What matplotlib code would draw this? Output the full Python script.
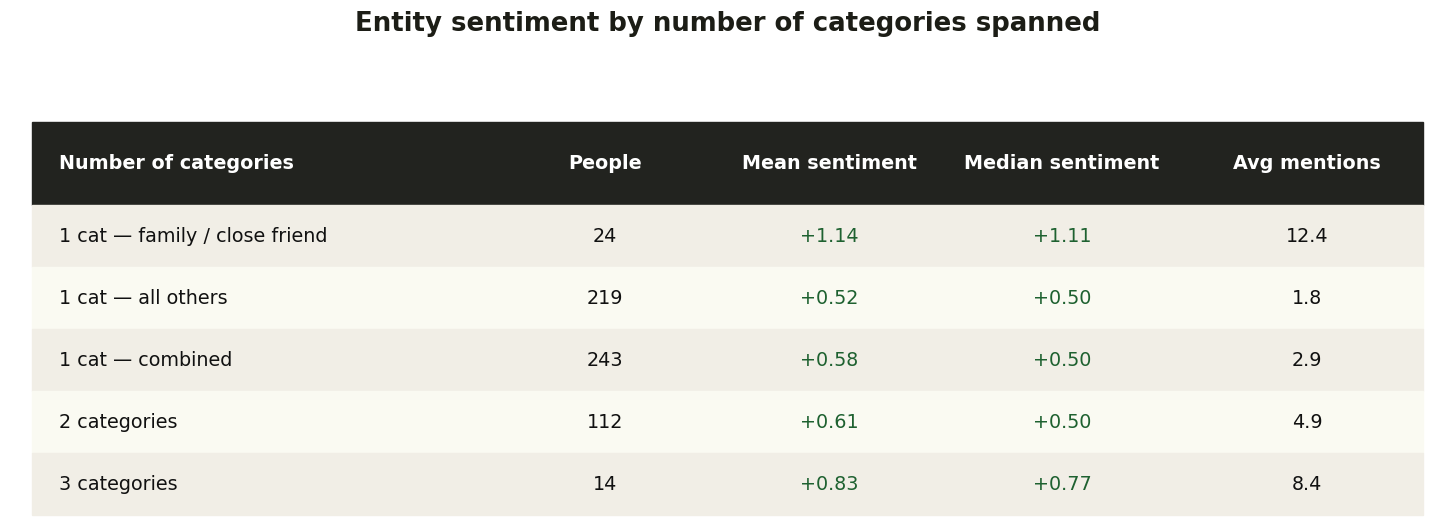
import matplotlib.pyplot as plt
from matplotlib.patches import Rectangle

title = "Entity sentiment by number of categories spanned"
headers = ["Number of categories", "People", "Mean sentiment", "Median sentiment", "Avg mentions"]
groups = ["1 cat — family / close friend", "1 cat — all others", "1 cat — combined",
          "2 categories", "3 categories"]
people = [24, 219, 243, 112, 14]
mean_sent = [1.14, 0.52, 0.58, 0.61, 0.83]
median_sent = [1.11, 0.50, 0.50, 0.50, 0.77]
avg_mentions = [12.4, 1.8, 2.9, 4.9, 8.4]

W, H = 1456, 528
fig = plt.figure(figsize=(W / 100, H / 100), dpi=100)
ax = fig.add_axes([0, 0, 1, 1])
ax.set_xlim(0, W)
ax.set_ylim(H, 0)
ax.axis("off")

left, right = 32, 1423
head_top, head_bot = 122, 205
row_h = 62
col_x = [59, 605, 829, 1062, 1307]
dark = "#22231f"
green = "#1e6130"
row_colors = ["#f1eee6", "#fafaf2"]

ax.text(W / 2, 24, title, ha="center", va="center", fontsize=18.7,
        fontweight="bold", color="#1c1d16")

ax.add_patch(Rectangle((left, head_top), right - left, head_bot - head_top, color=dark))
for i, h in enumerate(headers):
    ax.text(col_x[i], (head_top + head_bot) / 2, h, ha="left" if i == 0 else "center",
            va="center", fontsize=13.8, fontweight="bold", color="white")

for r in range(len(groups)):
    y0 = head_bot + r * row_h
    ax.add_patch(Rectangle((left, y0), right - left, row_h, color=row_colors[r % 2]))
    yc = y0 + row_h / 2
    vals = [groups[r], str(people[r]), f"{mean_sent[r]:+.2f}", f"{median_sent[r]:+.2f}",
            f"{avg_mentions[r]:.1f}"]
    for i, v in enumerate(vals):
        ax.text(col_x[i], yc, v, ha="left" if i == 0 else "center", va="center",
                fontsize=13.8, color=green if i in (2, 3) else "#111111")

fig.savefig("out.png", dpi=100)
